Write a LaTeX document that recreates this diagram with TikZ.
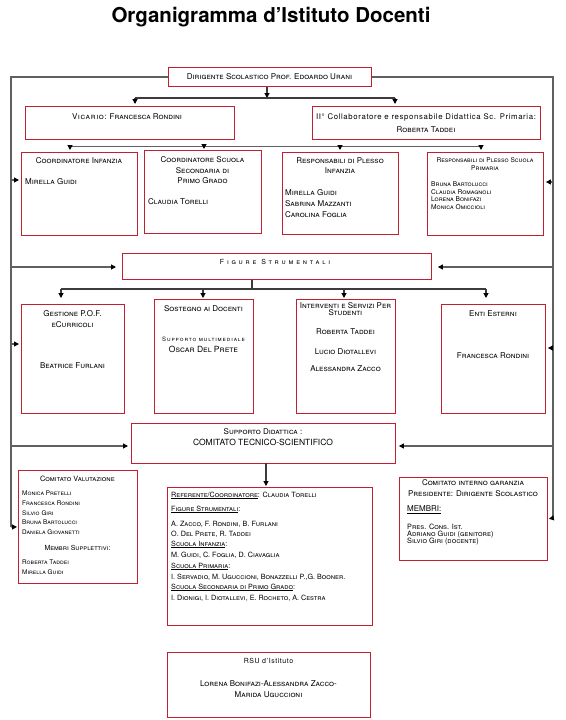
\documentclass[tikz,border=0pt]{standalone}
\usepackage{fontspec}
\setmainfont{TeX Gyre Heros}
\usetikzlibrary{arrows.meta,calc}
\definecolor{boxred}{RGB}{192,32,48}
\definecolor{framegray}{RGB}{96,96,96}
\definecolor{busgray}{RGB}{60,60,60}
\newcommand\mkbox[5]{\node[bx,minimum width={(#4)-(#2)},minimum height={(#5)-(#3)}] (#1) at (#2,#3) {};}
\newcommand\ls[1]{{\addfontfeature{LetterSpace=8}#1}}
\begin{document}
\begin{tikzpicture}[x=1pt,y=-1pt,
  bx/.style={draw=boxred,line width=0.9pt,fill=white,anchor=north west,inner sep=0pt},
  tx/.style={inner sep=0pt,anchor=base,font=\fontsize{8}{9}\selectfont\scshape},
  txl/.style={tx,anchor=base west},
  sm/.style={font=\fontsize{6.6}{7}\selectfont\scshape},
  rs/.style={font=\fontsize{7.2}{8}\selectfont\scshape},
  cs/.style={font=\fontsize{6.4}{7}\selectfont\scshape},
  fr/.style={draw=framegray,line width=1.1pt},
  bus/.style={draw=busgray,line width=1.1pt},
  arr/.style={-{Triangle[length=5pt,width=5pt,color=black,fill=black]},line width=1.1pt,draw=busgray},
  arrf/.style={-{Triangle[length=5pt,width=5pt,color=black,fill=black]},line width=1.1pt,draw=framegray}
]
\useasboundingbox (0,0) rectangle (565,720);

\node[inner sep=0pt,font=\fontsize{20.5}{22}\selectfont\bfseries] (title) at (271,17) {Organigramma d’Istituto Docenti};

% boxes
\mkbox{dir}{168}{67}{371}{86}
\mkbox{vic}{25}{106}{234}{139}
\mkbox{col}{312}{106}{540}{139}
\mkbox{ci}{21}{152}{137}{235}
\mkbox{css}{144}{150}{261}{233}
\mkbox{rpi}{282}{152}{398}{234}
\mkbox{rpp}{427}{152}{543}{235}
\mkbox{fs}{122}{253}{431}{279}
\mkbox{gp}{21}{304}{124}{413}
\mkbox{sd}{154}{299}{253}{413}
\mkbox{is}{296}{299}{395}{413}
\mkbox{ee}{441}{304}{545}{413}
\mkbox{sup}{131}{423}{395}{463}
\mkbox{cv}{18}{470}{137}{583}
\mkbox{ref}{167}{487}{372}{625}
\mkbox{cig}{399}{477}{547}{560}
\mkbox{rsu}{167}{652}{370}{717}

% frame
\coordinate (fBL) at (11,527);
\coordinate (fBR) at (553,518);
\draw[fr] (dir.west) -| (fBL);
\draw[fr] (dir.east) -| (fBR);
\draw[arrf,shorten >=1pt] (fBL) -- (cv.west);
\draw[arrf,shorten >=1pt] (fBR) -- (cig.east);
\coordinate (lf1) at (11,180);
\coordinate (lf2) at (11,267);
\coordinate (lf3) at (11,344);
\coordinate (lf4) at (11,446);
\coordinate (rf1) at (553,182);
\coordinate (rf2) at (553,267);
\coordinate (rf3) at (553,348);
\coordinate (rf4) at (553,446);
\draw[arrf,shorten >=2pt] (lf1) -- (lf1 -| ci.west);
\draw[arrf,shorten >=6pt] (lf2) -- (lf2 -| fs.west);
\draw[arrf,shorten >=2pt] (lf3) -- (lf3 -| gp.west);
\draw[arrf,shorten >=3pt] (lf4) -- (lf4 -| sup.west);
\draw[arrf,shorten >=2pt] (rf1) -- (rf1 -| rpp.east);
\draw[arrf,shorten >=6pt] (rf2) -- (rf2 -| fs.east);
\draw[arrf,shorten >=2pt] (rf3) -- (rf3 -| ee.east);
\draw[arrf,shorten >=3pt] (rf4) -- (rf4 -| sup.east);

% level 1
\coordinate (b1) at (267,98);
\coordinate (b1L) at (135,98);
\coordinate (b1R) at (395,98);
\draw[arr] (b1 |- dir.south) -- (b1);
\draw[bus] (b1L) -- (b1R);
\draw[arr,shorten >=2pt] (b1L) -- (b1L |- vic.north);
\draw[arr,shorten >=2pt] (b1R) -- (b1R |- col.north);

% level 2
\coordinate (b2L) at (70,146.5);
\coordinate (b2R) at (481,146.5);
\coordinate (b2a) at (204,146.5);
\coordinate (b2b) at (340,146.5);
\draw[bus,draw=framegray] (b2L) -- (b2R);
\draw[arr,shorten >=2pt] (b2L) -- (b2L |- ci.north);
\draw[arr,shorten >=1pt] (b2a) -- (b2a |- css.north);
\draw[arr,shorten >=2pt] (b2b) -- (b2b |- rpi.north);
\draw[arr,shorten >=2pt] (b2R) -- (b2R |- rpp.north);

% level 3
\coordinate (b3) at (252,289);
\coordinate (b3L) at (61,289);
\coordinate (b3R) at (486,289);
\coordinate (b3a) at (203,289);
\coordinate (b3b) at (344,289);
\draw[bus] (b3 |- fs.south) -- (b3);
\draw[bus] (b3L) -- (b3R);
\draw[arr,shorten >=6pt] (b3L) -- (b3L |- gp.north);
\draw[arr,shorten >=1pt] (b3a) -- (b3a |- sd.north);
\draw[arr,shorten >=1pt] (b3b) -- (b3b |- is.north);
\draw[arr,shorten >=6pt] (b3R) -- (b3R |- ee.north);

% level 4
\coordinate (b4) at (266,463);
\draw[arr,shorten >=1pt] (b4) -- (b4 |- ref.north);

% texts
\node[tx] (t1) at (269.5,79.5) {Dirigente Scolastico Prof. Edoardo Urani};
\node[tx] (t2) at (127,119) {\ls{Vicario:} Francesca Rondini};
\node[tx,font=\fontsize{7.8}{8}\selectfont] (t3) at (426,119) {\ls{II° Collaboratore e responsabile Didattica Sc. Primaria:}};
\node[tx] (t4) at (426,132) {Roberta Taddei};

\node[tx] (t5) at (79,163.5) {Coordinatore Infanzia};
\node[txl] (t6) at (25,184.5) {Mirella Guidi};

\node[tx] (t7) at (202.5,162.5) {Coordinatore Scuola};
\node[tx] (t8) at (202.5,173) {Secondaria di};
\node[tx] (t9) at (202.5,183.5) {Primo Grado};
\node[txl] (t10) at (148,204) {Claudia Torelli};

\node[tx] (t11) at (340,163) {Responsabili di Plesso};
\node[tx] (t12) at (340,173.5) {Infanzia};
\node[txl] (t13) at (285,195) {Mirella Guidi};
\node[txl] (t14) at (285,206) {Sabrina Mazzanti};
\node[txl] (t15) at (285,217.5) {Carolina Foglia};

\node[tx,sm] (t16) at (485,162) {Responsabili di Plesso Scuola};
\node[tx,sm] (t17) at (485,170.5) {Primaria};
\node[txl,sm] (t18) at (431,186.5) {Bruna Bartolucci};
\node[txl,sm] (t19) at (431,194) {Claudia Romagnoli};
\node[txl,sm] (t20) at (431,201.5) {Lorena Bonifazi};
\node[txl,sm] (t21) at (431,209) {Monica Omiccioli};

\node[tx,font=\fontsize{7}{8}\selectfont\scshape] (t22) at (275,264.5) {\addfontfeature{LetterSpace=40}Figure Strumentali};

\node[tx] (t23) at (72.5,316.5) {Gestione P.O.F.};
\node[tx] (t24) at (72.5,327) {eCurricoli};
\node[tx] (t25) at (72.5,368) {Beatrice Furlani};

\node[tx] (t26) at (203.5,311.5) {Sostegno ai Docenti};
\node[tx,font=\fontsize{6}{6}\selectfont\scshape] (t27) at (203.5,341.3) {\addfontfeature{LetterSpace=15}Supporto multimediale};
\node[tx,font=\fontsize{8.5}{9}\selectfont\scshape] (t28) at (203.5,352.7) {Oscar Del Prete};

\node[tx] (t29) at (345.5,308.5) {Interventi e Servizi Per};
\node[tx] (t30) at (345.5,315.8) {Studenti};
\node[tx] (t31) at (345.5,334) {Roberta Taddei};
\node[tx] (t32) at (345.5,354) {Lucio Diotallevi};
\node[tx] (t33) at (345.5,371.5) {Alessandra Zacco};

\node[tx] (t34) at (493,316.5) {Enti Esterni};
\node[tx] (t35) at (493,358.5) {Francesca Rondini};

\node[tx] (t36) at (263,434) {Supporto Didattica :};
\node[tx,font=\fontsize{8.5}{9}\selectfont] (t37) at (263,445) {COMITATO TECNICO-SCIENTIFICO};

\node[tx,font=\fontsize{7.3}{8}\selectfont\scshape] (t38) at (77.5,481) {Comitato Valutazione};
\node[txl,cs] (t39) at (22,495.5) {Monica Pretelli};
\node[txl,cs] (t40) at (22,505.5) {Francesca Rondini};
\node[txl,cs] (t41) at (22,515) {Silvio Giri};
\node[txl,cs] (t42) at (22,524.5) {Bruna Bartolucci};
\node[txl,cs] (t43) at (22,534) {Daniela Giovanetti};
\node[tx,font=\fontsize{7}{7}\selectfont\scshape] (t44) at (77.5,550.8) {Membri Supplettivi:};
\node[txl,cs] (t45) at (22,564) {Roberta Taddei};
\node[txl,cs] (t46) at (22,574.5) {Mirella Guidi};

\node[txl,rs] (t47) at (171,497) {\underline{Referente/Coordinatore}: Claudia Torelli};
\node[txl,rs] (t48) at (171,511) {\underline{Figure Strumentali}:};
\node[txl,rs] (t49) at (171,526) {A. Zacco, F. Rondini, B. Furlani};
\node[txl,rs] (t50) at (171,536) {O. Del Prete, R. Taddei};
\node[txl,rs] (t51) at (171,546) {\underline{Scuola Infanzia}:};
\node[txl,rs] (t52) at (171,557) {M. Guidi, C. Foglia, D. Ciavaglia};
\node[txl,rs] (t53) at (171,568) {\underline{Scuola Primaria}:};
\node[txl,rs] (t54) at (171,579) {I. Servadio, M. Uguccioni, Bonazzelli P.,G. Booner.};
\node[txl,rs] (t55) at (171,589) {\underline{Scuola Secondaria di Primo Grado}:};
\node[txl,rs] (t56) at (171,600) {I. Dionigi, I. Diotallevi, E. Rocheto, A. Cestra};

\node[tx] (t57) at (473,485.5) {Comitato interno garanzia};
\node[tx] (t58) at (473,496) {Presidente: Dirigente Scolastico};
\node[txl,font=\fontsize{8}{9}\selectfont] (t59) at (407,511.5) {\underline{MEMBRI:}};
\node[txl,font=\fontsize{7.3}{8}\selectfont\scshape] (t60) at (407,529) {Pres. Cons. Ist.};
\node[txl,font=\fontsize{7.3}{8}\selectfont\scshape] (t61) at (407,536.5) {Adriano Guidi (genitore)};
\node[txl,font=\fontsize{7.3}{8}\selectfont\scshape] (t62) at (407,543.5) {Silvio Giri (docente)};

\node[tx,font=\fontsize{7}{8}\selectfont] (t63) at (268.5,663.5) {\ls{RSU d’Istituto}};
\node[tx] (t64) at (268.5,686.8) {Lorena Bonifazi-Alessandra Zacco-};
\node[tx] (t65) at (268.5,697) {Marida Uguccioni};
\end{tikzpicture}
\end{document}
